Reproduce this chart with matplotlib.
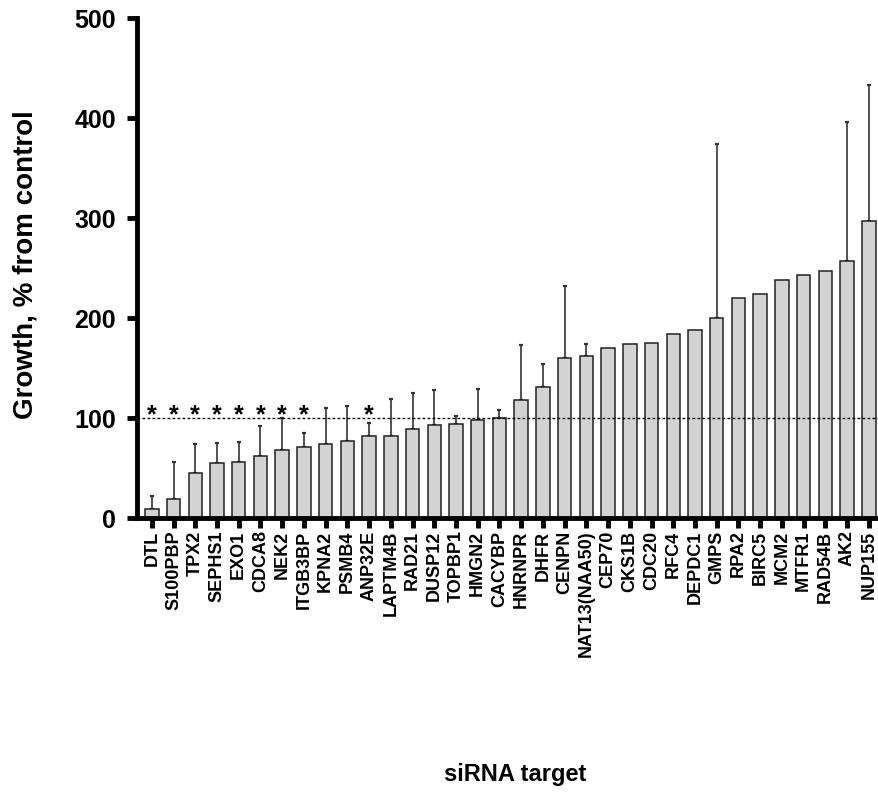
import matplotlib
matplotlib.use("Agg")
import matplotlib.pyplot as plt
import numpy as np

plt.rcParams['font.family'] = ['Liberation Sans', 'DejaVu Sans']
plt.rcParams['font.weight'] = 'bold'

categories = ['DTL', 'S100PBP', 'TPX2', 'SEPHS1', 'EXO1', 'CDCA8', 'NEK2', 'ITGB3BP',
              'KPNA2', 'PSMB4', 'ANP32E', 'LAPTM4B', 'RAD21', 'DUSP12', 'TOPBP1',
              'HMGN2', 'CACYBP', 'HNRNPR', 'DHFR', 'CENPN', 'NAT13(NAA50)', 'CEP70',
              'CKS1B', 'CDC20', 'RFC4', 'DEPDC1', 'GMPS', 'RPA2', 'BIRC5', 'MCM2',
              'MTFR1', 'RAD54B', 'AK2', 'NUP155']
growth = [9, 19, 45, 55.5, 56, 62.5, 68.5, 71.5,
          74.5, 77, 82, 82.5, 89.5, 93.5, 94.5,
          98, 100.5, 118, 131, 160, 162, 170,
          174, 175.5, 184, 188.5, 200, 220, 224.5, 238.5,
          243.5, 247.5, 257.5, 297]
sd = [13, 37, 29, 20, 20.5, 30, 31.5, 14,
      36, 35, 13, 36.5, 35.5, 34.5, 7.5,
      31, 7.5, 55, 23.5, 72, 12, 0,
      0, 0, 0, 0, 174, 0, 0, 0,
      0, 0, 139, 136]
significant = [1, 1, 1, 1, 1, 1, 1, 1,
               0, 0, 1, 0, 0, 0, 0,
               0, 0, 0, 0, 0, 0, 0,
               0, 0, 0, 0, 0, 0, 0, 0,
               0, 0, 0, 0]
y_ticks = [0, 100, 200, 300, 400, 500]
control_level = 100

fig = plt.figure(figsize=(8.79, 7.93), dpi=100)
ax = fig.add_axes([137/879, 1-518/793, (878-137)/879, 500/793])

x = np.arange(len(categories))
ax.bar(x, growth, width=0.62, color='#d3d3d3', edgecolor='#222222', linewidth=1.1, zorder=2)

err_idx = [i for i, s in enumerate(sd) if s > 0]
ax.errorbar(x[err_idx], [growth[i] for i in err_idx],
            yerr=[[0]*len(err_idx), [sd[i] for i in err_idx]],
            fmt='none', ecolor='#333333', elinewidth=1.2, capsize=1.6, capthick=1.6, zorder=1)

ax.axhline(control_level, color='black', lw=1.0, ls=(0, (2, 1.6)), zorder=3)

for i, s in enumerate(significant):
    if s:
        ax.text(x[i], 103, '*', ha='center', va='center', fontsize=18, fontweight='bold', zorder=4)

ax.set_xlim(-0.68, len(categories) - 1 + 0.42)
ax.set_ylim(0, 500)
ax.set_yticks(y_ticks)
ax.set_yticklabels([str(t) for t in y_ticks], fontsize=18, fontweight='bold')
ax.set_xticks(x)
ax.set_xticklabels(categories, rotation=90, fontsize=13, fontweight='bold')

for side in ['top', 'right']:
    ax.spines[side].set_visible(False)
for side in ['left', 'bottom']:
    ax.spines[side].set_linewidth(3.5)
    ax.spines[side].set_capstyle('projecting')
ax.tick_params(axis='y', length=7, width=3.5, pad=8)
ax.tick_params(axis='x', length=7, width=3.5, pad=2)

fig.text(26/879, 1-265/793, 'Growth, % from control', rotation=90, ha='center', va='center',
         fontsize=20, fontweight='bold')
fig.text(515/879, 1-775/793, 'siRNA target', ha='center', va='center',
         fontsize=17, fontweight='bold')

fig.savefig('out.png', dpi=100)
